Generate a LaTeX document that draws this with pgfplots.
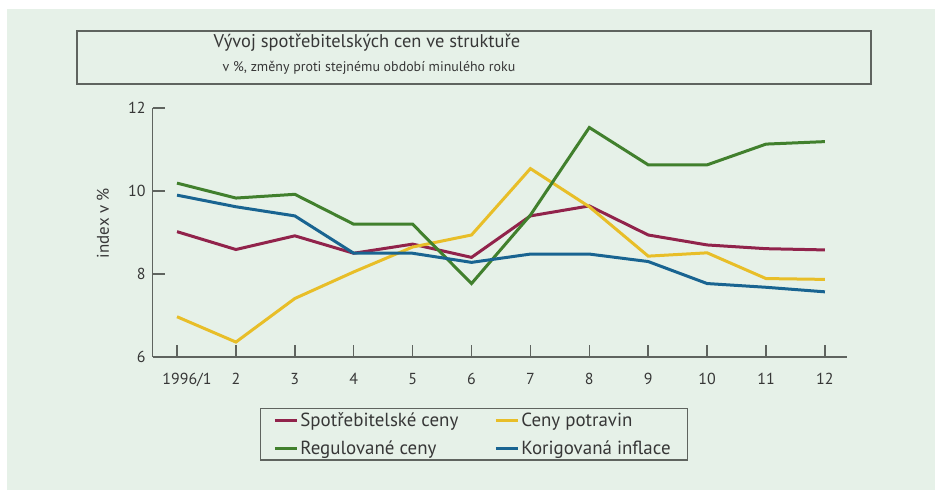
\documentclass[border=0pt]{standalone}
\usepackage{fontspec}
\setmainfont{PT Sans}
\usepackage{pgfplots}
\pgfplotsset{compat=1.18}
\definecolor{bg}{RGB}{230,241,232}
\definecolor{cred}{RGB}{145,35,75}
\definecolor{cgreen}{RGB}{65,128,45}
\definecolor{cyellow}{RGB}{232,190,40}
\definecolor{cblue}{RGB}{25,100,145}
\definecolor{frame}{RGB}{95,100,95}
\definecolor{txt}{RGB}{55,55,55}
\begin{document}
\begin{tikzpicture}
\fill[white] (0,0) rectangle (935bp,490bp);
\fill[bg] (7bp,0) rectangle (935bp,481bp);
\draw[frame,line width=1.5bp] (77bp,459bp) rectangle (871bp,406bp);
\node[text=txt,font=\fontsize{18.5}{22}\selectfont] at (367bp,447bp) {Vývoj spotřebitelských cen ve struktuře};
\node[text=txt,font=\fontsize{14}{16}\selectfont] at (369bp,422bp) {v \%, změny proti stejnému období minulého roku};
\begin{axis}[
  at={(152.7bp,133bp)}, anchor=south west,
  scale only axis, width=694bp, height=249bp,
  xmin=0.587, xmax=12.37, ymin=6, ymax=12,
  axis lines=left,
  axis line style={-, line width=1.5bp, frame},
  xtick={1,...,12},
  xticklabels={\hspace*{20bp}1996/1,2,3,4,5,6,7,8,9,10,11,12},
  ytick={6,8,10,12},
  tick align=inside,
  /pgf/number format/assume math mode=true,
  major tick length=12bp,
  tick style={line width=1.5bp, frame},
  tick label style={font=\fontsize{16}{19}\selectfont, text=txt},
  xticklabel style={anchor=base, yshift=-28bp, inner sep=0pt},
  yticklabel style={anchor=east, xshift=-7bp, inner sep=0pt},
  ylabel={index v \%},
  ylabel style={at={(axis description cs:-0.0716,0.538)}, anchor=center, text=txt, font=\fontsize{17}{20}\selectfont},
  legend columns=2,
  legend cell align=left,
  legend image code/.code={\draw[line width=3bp] (0bp,0bp) -- (22bp,0bp);},
  legend style={at={(axis description cs:0.463,-0.311)}, anchor=center,
    draw=frame, line width=1.5bp, fill=none, text=txt,
    font=\fontsize{19}{23}\selectfont,
    inner xsep=13bp, inner ysep=2bp, row sep=9bp,
    /tikz/every even column/.append style={column sep=34bp}},
]
\addplot[cred, line width=3bp] coordinates {(1,9.02) (2,8.59) (3,8.92) (4,8.5) (5,8.72) (6,8.4) (7,9.4) (8,9.64) (9,8.94) (10,8.7) (11,8.61) (12,8.58)};
\addlegendentry{Spotřebitelské ceny}
\addplot[cyellow, line width=3bp] coordinates {(1,6.97) (2,6.36) (3,7.41) (4,8.05) (5,8.65) (6,8.94) (7,10.54) (8,9.62) (9,8.43) (10,8.51) (11,7.89) (12,7.87)};
\addlegendentry{Ceny potravin}
\addplot[cgreen, line width=3bp] coordinates {(1,10.19) (2,9.83) (3,9.92) (4,9.2) (5,9.2) (6,7.77) (7,9.42) (8,11.53) (9,10.63) (10,10.63) (11,11.13) (12,11.19)};
\addlegendentry{Regulované ceny}
\addplot[cblue, line width=3bp] coordinates {(1,9.9) (2,9.62) (3,9.4) (4,8.5) (5,8.5) (6,8.28) (7,8.48) (8,8.48) (9,8.3) (10,7.77) (11,7.68) (12,7.57)};
\addlegendentry{Korigovaná inflace\hspace*{2bp}}
\end{axis}
\end{tikzpicture}
\end{document}
